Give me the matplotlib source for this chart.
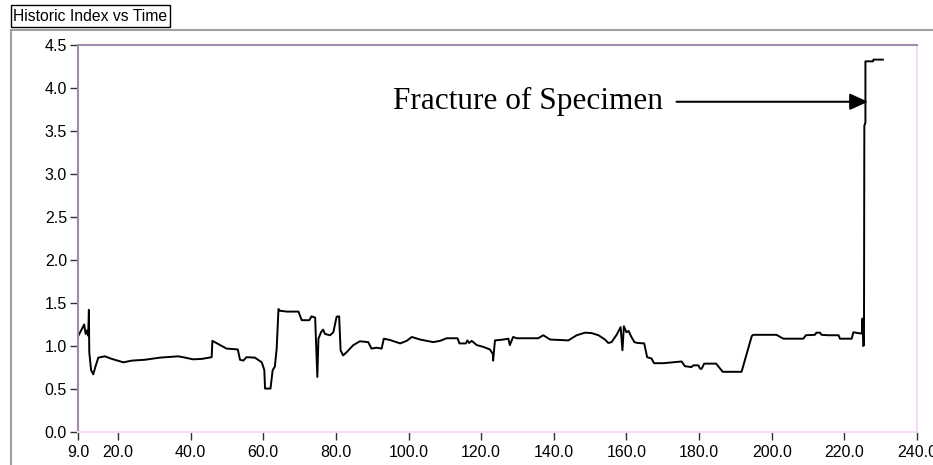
import matplotlib
matplotlib.use("Agg")
import matplotlib.pyplot as plt
from matplotlib.lines import Line2D
from matplotlib.patches import Rectangle

# data (time vs historic index)
time = [9.0, 10.7, 11.1, 11.5, 11.8, 12.0, 12.1, 12.6, 13.2, 13.8, 14.6, 16.4, 18.3,
        21.5, 23.8, 27.4, 31.6, 36.6, 38.5, 40.7, 43.1, 45.8, 46.0, 49.9, 53.0, 53.6,
        54.5, 55.4, 57.7, 59.6, 60.3, 60.5, 62.0, 62.6, 63.2, 63.7, 64.2, 64.6, 66.5,
        69.7, 70.6, 72.7, 73.3, 74.3, 74.5, 74.9, 75.2, 75.9, 76.5, 77.0, 78.4, 79.3,
        80.2, 80.9, 81.3, 82.0, 83.0, 84.8, 86.6, 88.9, 89.8, 91.2, 92.6, 93.2, 94.9,
        97.7, 99.5, 100.9, 103.2, 106.8, 108.7, 110.5, 113.5, 114.0, 115.8, 116.2,
        116.7, 117.4, 118.8, 120.6, 122.4, 123.2, 123.3, 123.8, 126.1, 127.5, 127.9,
        128.8, 129.8, 135.7, 137.1, 139.0, 144.0, 146.3, 148.6, 150.4, 152.3, 154.1,
        155.0, 155.9, 157.3, 158.4, 158.9, 159.3, 160.0, 160.6, 161.3, 162.2, 163.1,
        164.9, 165.7, 166.9, 167.6, 170.2, 175.2, 176.1, 177.9, 178.4, 179.8, 180.3,
        180.7, 181.4, 184.7, 186.5, 191.7, 194.5, 194.9, 201.3, 203.2, 208.7, 209.4,
        211.9, 212.3, 213.3, 213.7, 215.6, 218.4, 218.8, 222.0, 222.5, 223.8, 224.8,
        225.0, 225.2, 225.4, 225.5, 225.8, 225.8, 227.9, 228.0, 230.6]
index = [1.11, 1.25, 1.14, 1.18, 1.12, 1.42, 0.93, 0.72, 0.67, 0.76, 0.865, 0.88, 0.85,
         0.81, 0.83, 0.84, 0.865, 0.88, 0.865, 0.845, 0.85, 0.87, 1.06, 0.97, 0.96, 0.84,
         0.83, 0.87, 0.865, 0.81, 0.72, 0.505, 0.505, 0.72, 0.76, 0.97, 1.43, 1.41, 1.40,
         1.40, 1.30, 1.30, 1.345, 1.33, 1.085, 0.64, 1.085, 1.16, 1.19, 1.14, 1.125, 1.16,
         1.34, 1.345, 0.95, 0.89, 0.93, 1.01, 1.055, 1.045, 0.97, 0.98, 0.97, 1.085, 1.07,
         1.03, 1.06, 1.105, 1.075, 1.045, 1.06, 1.09, 1.09, 1.03, 1.03, 1.065,
         1.035, 1.06, 1.01, 0.99, 0.96, 0.91, 0.83, 1.065, 1.075, 1.085, 1.01,
         1.105, 1.09, 1.09, 1.125, 1.075, 1.065, 1.125, 1.155, 1.15, 1.125, 1.075,
         1.035, 1.045, 1.13, 1.22, 0.95, 1.23, 1.16, 1.175, 1.11, 1.045, 1.035,
         1.03, 0.87, 0.855, 0.80, 0.80, 0.82, 0.765, 0.755, 0.775, 0.775, 0.735,
         0.735, 0.795, 0.795, 0.70, 0.70, 1.115, 1.13, 1.13, 1.085, 1.085, 1.125,
         1.13, 1.155, 1.155, 1.13, 1.125, 1.125, 1.085, 1.085, 1.16, 1.15, 1.145,
         1.32, 1.0, 1.01, 3.56, 3.6, 4.31, 4.31, 4.33, 4.33]

x_ticks = [9.0, 20.0, 40.0, 60.0, 80.0, 100.0, 120.0, 140.0, 160.0, 180.0, 200.0, 220.0, 240.0]
y_ticks = [0.0, 0.5, 1.0, 1.5, 2.0, 2.5, 3.0, 3.5, 4.0, 4.5]

title = "Historic Index vs Time"
note = "Fracture of Specimen"
note_y = 3.84
arrow_from = 173.8
arrow_to = 226.5

W, H = 933, 465
fig = plt.figure(figsize=(W / 100, H / 100), dpi=100)
fig.patch.set_facecolor("white")

# outer panel frame and title box
fig.add_artist(Line2D([11 / W, 11 / W], [0, 1 - 30 / H], transform=fig.transFigure,
                      color="#a0a0a0", lw=1.5))
fig.add_artist(Line2D([11 / W, 1], [1 - 30 / H, 1 - 30 / H], transform=fig.transFigure,
                      color="#a0a0a0", lw=1.5))
fig.add_artist(Rectangle((11 / W, 1 - 27 / H), 159 / W, 22 / H, transform=fig.transFigure,
                         fill=False, ec="black", lw=1))
fig.text(13 / W, 1 - 16.5 / H, title, family="Liberation Sans", fontsize=11.3,
         va="center", ha="left")

ax = fig.add_axes([78 / W, 1 - 432 / H, 839 / W, 387 / H])
ax.plot(time, index, color="black", lw=1.4)

ax.set_xlim(9, 240)
ax.set_ylim(0, 4.5)
ax.set_xticks(x_ticks)
ax.set_xticklabels(["%.1f" % v for v in x_ticks])
ax.set_yticks(y_ticks)
ax.set_yticklabels(["%.1f" % v for v in y_ticks])
ax.tick_params(axis="both", direction="out", length=6, width=1, color="#303030",
               labelsize=11.5)
ax.tick_params(axis="x", pad=3.5)
ax.tick_params(axis="y", pad=2)
for lab in ax.get_xticklabels() + ax.get_yticklabels():
    lab.set_family("Liberation Sans")

for side in ["top", "left"]:
    ax.spines[side].set_color("#a08ca8")
    ax.spines[side].set_linewidth(1.5)
for side in ["right", "bottom"]:
    ax.spines[side].set_color("#f6dcf6")
    ax.spines[side].set_linewidth(1.5)

# annotation
ax.text(170.1, note_y, note, family="Liberation Serif", fontsize=22.5,
        ha="right", va="center")
ax.annotate("", xy=(arrow_to, note_y), xytext=(arrow_from, note_y),
            arrowprops=dict(arrowstyle="-|>,head_length=1.1,head_width=0.5",
                            mutation_scale=10, color="black", lw=1.5,
                            shrinkA=0, shrinkB=0))

fig.savefig("out.png", dpi=100)
